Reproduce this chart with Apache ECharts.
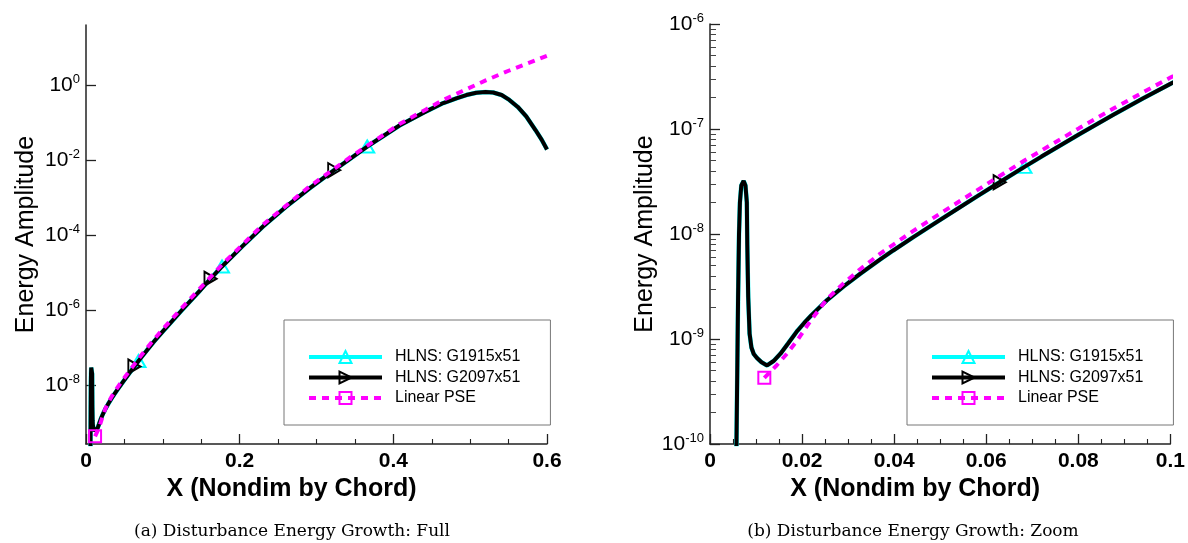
<!DOCTYPE html>
<html>
<head>
<meta charset="utf-8">
<script src="https://cdn.jsdelivr.net/npm/echarts@6/dist/echarts.min.js"></script>
<style>
  html, body { margin: 0; padding: 0; background: #fff; }
  #chart { width: 1188px; height: 543px; }
</style>
</head>
<body>
<div id="chart"></div>
<script>
// Streamwise station x/c for the HLNS solutions
const xHlns = [
  0.0056, 0.0059, 0.0061, 0.0063, 0.0065, 0.0068, 0.0073, 0.0077, 0.0080, 0.0081,
  0.0083, 0.0086, 0.0090, 0.0095, 0.0102, 0.0112, 0.0124, 0.0138, 0.0153, 0.0170,
  0.0190, 0.0205, 0.0220, 0.0254, 0.0290, 0.0326, 0.0369, 0.0398, 0.0440, 0.0477,
  0.0542, 0.0580, 0.0629, 0.0683, 0.0720, 0.0802, 0.0880, 0.0940, 0.1000, 0.125,
  0.148, 0.162, 0.177, 0.203, 0.230, 0.260, 0.290, 0.323, 0.345, 0.366,
  0.408, 0.442, 0.465, 0.482, 0.495, 0.508, 0.520, 0.530, 0.541, 0.551,
  0.562, 0.573, 0.585, 0.593, 0.600
];
// Disturbance energy, HLNS (the two grids agree to plotting accuracy)
const energyHlns = [
  2.5e-11, 4.0e-10, 2.5e-9, 1.0e-8, 2.0e-8, 2.9e-8, 3.2e-8, 2.9e-8, 2.0e-8, 7.9e-9,
  2.5e-9, 1.12e-9, 8.3e-10, 7.2e-10, 6.6e-10, 6.0e-10, 5.6e-10, 6.17e-10, 7.24e-10, 9.12e-10,
  1.20e-9, 1.43e-9, 1.68e-9, 2.34e-9, 3.16e-9, 4.17e-9, 5.69e-9, 6.97e-9, 9.23e-9, 1.175e-8,
  1.79e-8, 2.28e-8, 3.11e-8, 4.36e-8, 5.46e-8, 8.91e-8, 1.40e-7, 1.95e-7, 2.69e-7, 1.0e-6,
  3.24e-6, 6.8e-6, 1.45e-5, 4.9e-5, 1.66e-4, 5.6e-4, 1.7e-3, 5.37e-3, 1.12e-2, 2.29e-2,
  8.3e-2, 0.195, 0.33, 0.44, 0.54, 0.62, 0.65, 0.63, 0.54, 0.40,
  0.26, 0.145, 0.063, 0.035, 0.019
];
// Linear PSE marching solution
const xPse = [
  0.0118, 0.0145, 0.0167, 0.0190, 0.0218, 0.0254, 0.0290, 0.0326, 0.0369, 0.0440,
  0.0477, 0.0542, 0.0614, 0.0683, 0.0802, 0.0880, 0.0940, 0.1000, 0.125, 0.177,
  0.230, 0.290, 0.345, 0.408, 0.442, 0.465, 0.490, 0.521, 0.550, 0.575, 0.600
];
const energyPse = [
  4.27e-10, 5.62e-10, 7.24e-10, 9.77e-10, 1.48e-9, 2.40e-9, 3.39e-9, 4.62e-9, 6.46e-9, 1.06e-8,
  1.35e-8, 2.05e-8, 3.24e-8, 5.01e-8, 1.02e-7, 1.60e-7, 2.23e-7, 3.09e-7, 1.15e-6, 1.62e-5,
  1.86e-4, 1.91e-3, 1.23e-2, 9.1e-2, 0.22, 0.40, 0.69, 1.35, 2.4, 3.8, 6.0
];
// Stations that carry a symbol on each curve
const markG1915 = [0.0683, 0.177, 0.366];
const markG2097 = [0.0629, 0.162, 0.323];
const markPse = [0.0118];

// Axis ticks (log10 of energy)
const decadesFull = [-8, -6, -4, -2, 0];
const decadesZoom = [-10, -9, -8, -7, -6];
const minorMantissa = [2, 3, 4, 5, 6, 7, 8, 9];

const seriesNames = ['HLNS: G1915x51', 'HLNS: G2097x51', 'Linear PSE'];
const captions = ['(a) Disturbance Energy Growth: Full', '(b) Disturbance Energy Growth: Zoom'];
const xTitle = 'X (Nondim by Chord)';
const yTitle = 'Energy Amplitude';

const SANS = '"Liberation Sans", Arial, sans-serif';
const SERIF = '"DejaVu Serif", "Liberation Serif", serif';
const CYAN = '#00ffff', BLACK = '#000000', MAGENTA = '#ff00ff';

const minorZoom = [];
decadesZoom.slice(0, -1).forEach(n => minorMantissa.forEach(m => minorZoom.push(n + Math.log10(m))));

function curve(xs, es, marks) {
  return xs.map((x, i) => {
    const item = { value: [x, Math.log10(es[i])] };
    if (!marks.includes(x)) item.symbol = 'none';
    return item;
  });
}

function seriesFor(g) {
  return [
    {
      name: seriesNames[0], type: 'line', xAxisIndex: g, yAxisIndex: g,
      data: curve(xHlns, energyHlns, markG1915),
      symbol: 'triangle', symbolSize: [14, 12], showSymbol: true,
      itemStyle: { color: 'rgba(0,0,0,0)', borderColor: CYAN, borderWidth: 2 },
      lineStyle: { color: CYAN, width: 4.5 }, z: 2
    },
    {
      name: seriesNames[1], type: 'line', xAxisIndex: g, yAxisIndex: g,
      data: curve(xHlns, energyHlns, markG2097),
      symbol: 'triangle', symbolSize: [14, 12], symbolRotate: -90, showSymbol: true,
      itemStyle: { color: 'rgba(0,0,0,0)', borderColor: BLACK, borderWidth: 2 },
      lineStyle: { color: BLACK, width: 4 }, z: 3
    },
    {
      name: seriesNames[2], type: 'line', xAxisIndex: g, yAxisIndex: g,
      data: curve(xPse, energyPse, markPse),
      symbol: 'rect', symbolSize: 12, showSymbol: true,
      itemStyle: { color: 'rgba(0,0,0,0)', borderColor: MAGENTA, borderWidth: 2 },
      lineStyle: { color: MAGENTA, width: 4, type: [7, 6] }, z: 4
    }
  ];
}

const axisLineStyle = { color: '#222', width: 1.5 };

function xAxisFor(g, max, interval, shift) {
  return {
    gridIndex: g, type: 'value', min: 0, max: max, interval: interval,
    axisLine: { show: true, onZero: false, lineStyle: axisLineStyle },
    axisTick: { show: true, inside: true, length: 10, lineStyle: { color: '#222', width: 1.3 } },
    minorTick: { show: true, splitNumber: 4, length: 5, lineStyle: { color: '#222', width: 1.1 } },
    splitLine: { show: false },
    axisLabel: { fontFamily: SANS, fontSize: 21, fontWeight: 'bold', color: '#000', margin: 7 },
    name: xTitle, nameLocation: 'middle', nameGap: 28,
    nameTextStyle: { fontFamily: SANS, fontSize: 25, fontWeight: 'bold', color: '#000', padding: [0, shift, 0, 0] }
  };
}

const labelRich = {
  b: { fontFamily: SANS, fontSize: 21, color: '#000', lineHeight: 24 },
  s: { fontFamily: SANS, fontSize: 13, color: '#000', lineHeight: 12, verticalAlign: 'top' }
};

function yAxisFor(g, min, max, decades, gap) {
  return {
    gridIndex: g, type: 'value', min: min, max: max,
    axisLine: { show: true, onZero: false, lineStyle: axisLineStyle },
    axisTick: { show: true, inside: true, length: 10, customValues: decades, lineStyle: { color: '#222', width: 1.3 } },
    splitLine: { show: false },
    axisLabel: {
      customValues: decades, margin: 6,
      formatter: v => '{b|10}{s|' + v + '}', rich: labelRich
    },
    name: yTitle, nameLocation: 'middle', nameGap: gap,
    nameTextStyle: { fontFamily: SANS, fontSize: 25, color: '#000' }
  };
}

function legendAt(left) {
  return {
    left: left, top: 320, orient: 'vertical',
    data: seriesNames,
    selectedMode: false,
    backgroundColor: '#fff', borderColor: '#777', borderWidth: 1,
    padding: [29, 30, 19, 23],
    itemWidth: 73, itemHeight: 15, itemGap: 4.5,
    lineStyle: { width: 4 },
    textStyle: { fontFamily: SANS, fontSize: 16, color: '#000', padding: [0, 0, 0, 8] }
  };
}

const chart = echarts.init(document.getElementById('chart'), null, { renderer: 'canvas' });
chart.setOption({
  backgroundColor: '#fff',
  animation: false,
  title: [
    { text: captions[0], left: 287, top: 518, textAlign: 'center',
      textStyle: { fontFamily: SERIF, fontSize: 17, fontWeight: 'normal', color: '#000' } },
    { text: captions[1], left: 908, top: 518, textAlign: 'center',
      textStyle: { fontFamily: SERIF, fontSize: 17, fontWeight: 'normal', color: '#000' } }
  ],
  legend: [legendAt(284), legendAt(907)],
  grid: [
    { left: 86, top: 25, width: 461, height: 419 },
    { left: 710, top: 24, width: 462, height: 420 }
  ],
  xAxis: [xAxisFor(0, 0.6, 0.2, 50), xAxisFor(1, 0.1, 0.02, 50)],
  yAxis: [
    yAxisFor(0, -9.573, 1.6, decadesFull, 47),
    yAxisFor(1, -10, -6, decadesZoom, 50),
    {
      // minor decade ticks of the zoomed panel
      gridIndex: 1, type: 'value', min: -10, max: -6, position: 'left',
      axisLine: { show: false },
      axisTick: { show: true, inside: true, length: 6, customValues: minorZoom, lineStyle: { color: '#444', width: 1 } },
      axisLabel: { show: false }, splitLine: { show: false }
    }
  ],
  series: [...seriesFor(0), ...seriesFor(1)]
});
</script>
</body>
</html>
